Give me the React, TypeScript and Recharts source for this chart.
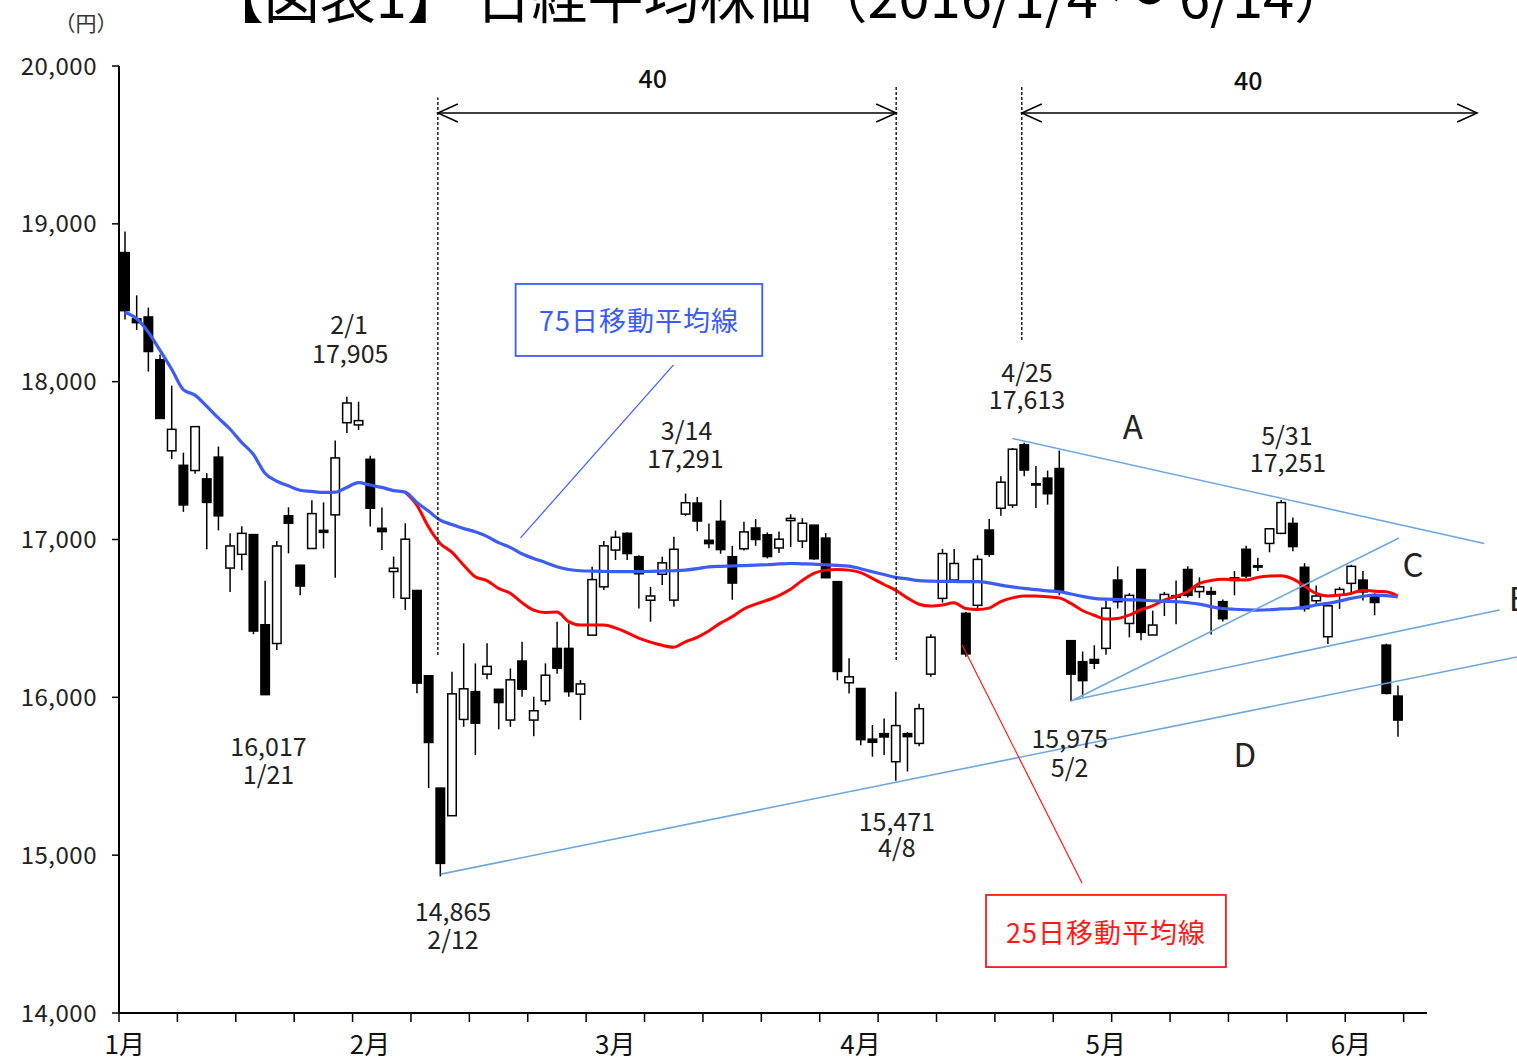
import React from 'react';
import {
  ComposedChart, Bar, Line, XAxis, YAxis, ReferenceLine, ReferenceDot, ReferenceArea,
} from 'recharts';

const FONT = '"Noto Sans CJK JP", "Noto Sans", sans-serif';

// ---- data ----
const dates = [
  '1/4','1/5','1/6','1/7','1/8','1/12','1/13','1/14','1/15','1/18','1/19','1/20','1/21','1/22','1/25','1/26','1/27','1/28','1/29',
  '2/1','2/2','2/3','2/4','2/5','2/8','2/9','2/10','2/12','2/15','2/16','2/17','2/18','2/19','2/22','2/23','2/24','2/25','2/26','2/29',
  '3/1','3/2','3/3','3/4','3/7','3/8','3/9','3/10','3/11','3/14','3/15','3/16','3/17','3/18','3/22','3/23','3/24','3/25','3/28','3/29','3/30','3/31',
  '4/1','4/4','4/5','4/6','4/7','4/8','4/11','4/12','4/13','4/14','4/15','4/18','4/19','4/20','4/21','4/22','4/25','4/26','4/27','4/28',
  '5/2','5/6','5/9','5/10','5/11','5/12','5/13','5/16','5/17','5/18','5/19','5/20','5/23','5/24','5/25','5/26','5/27','5/30','5/31',
  '6/1','6/2','6/3','6/6','6/7','6/8','6/9','6/10','6/13','6/14',
];

const open = [
  18818,18398,18410,18139,17562,17470,17437,17384,17522,16819,
  16906,17031,16460,16341,17150,16837,16943,17058,17156,17740,
  17726,17508,17071,16797,16628,16677,16137,15425,15250,15860,
  16036,16147,16051,15856,16230,15856,15978,16310,16310,16020,
  16394,16700,16933,17039,16891,16615,16780,16616,17161,17231,
  16995,17115,16891,16941,17073,17030,16946,17120,16990,17091,
  17009,16733,16092,16056,15735,15770,15592,15770,15708,16147,
  16627,16743,16532,16583,17060,17198,17218,17600,17345,17389,
  17450,16359,16226,16240,16310,16743,16468,16810,16395,16606,
  16634,16810,16670,16670,16606,16740,16938,16825,16975,17039,
  17102,16824,16612,16384,16648,16722,16743,16637,16331,16008,
];
const high = [
  18951,18547,18469,18172,17975,17550,17716,17420,17589,17039,
  17084,17031,16739,16991,17204,16840,17249,17235,17628,17905,
  17873,17530,17202,16892,17103,16677,16137,15425,16162,16342,
  16215,16342,16051,16183,16352,16004,16215,16479,16468,16109,
  16827,16990,17056,17045,16900,16700,16891,17018,17291,17270,
  17102,17250,16960,17113,17130,17045,17050,17160,17135,17092,
  17040,16733,16247,16056,15824,15866,16035,15780,15960,16400,
  16940,16940,16540,16900,17130,17400,17580,17613,17466,17437,
  17564,16359,16290,16330,16610,16830,16660,16810,16549,16668,
  16740,16830,16760,16700,16620,16800,16960,16884,17071,17251,
  17140,16850,16709,16603,16700,16840,16800,16661,16340,16075,
];
const low = [
  18394,18327,18064,17767,17509,17175,17416,16938,17058,16667,
  16805,16400,16017,16300,16912,16646,16943,16943,16758,17674,
  17694,17082,16934,16628,16554,16026,15425,14865,15250,15813,
  15634,16114,15797,15813,16004,15753,15951,16150,16004,15856,
  16394,16680,16870,16870,16563,16479,16711,16574,17150,17052,
  16944,16910,16618,16930,16960,16880,16915,16952,16946,16871,
  16758,16108,16025,15697,15624,15634,15471,15530,15690,16130,
  16600,16740,16257,16560,16890,17150,17200,17400,17200,17221,
  16647,15975,16005,16180,16270,16563,16380,16361,16395,16515,
  16463,16633,16630,16398,16480,16646,16754,16800,16919,17034,
  16925,16543,16585,16338,16560,16650,16614,16520,16019,15750,
];
const close = [
  18450,18374,18191,17767,17698,17219,17715,17235,17150,16959,
  17039,16420,16017,16959,17103,16705,17164,17045,17517,17865,
  17753,17198,17050,16818,17002,16090,15714,14948,16022,16054,
  15836,16196,15967,16111,16052,15915,16140,16185,16036,16085,
  16746,16960,17014,16911,16783,16642,16852,16938,17233,17117,
  16974,16936,16724,17048,17000,16892,17002,17134,17103,16878,
  16758,16164,16130,15732,15715,15749,15821,15751,15928,16381,
  16911,16848,16275,16874,16906,17363,17572,17440,17353,17290,
  16666,16147,16106,16216,16565,16606,16646,16412,16458,16652,
  16644,16646,16700,16654,16498,16757,16769,16834,17068,17234,
  16955,16562,16642,16580,16684,16830,16668,16601,16025,15856,
];
const ma75 = [
  18440,18400,18315,18200,18080,17950,17915,17845,17770,17700,
  17615,17540,17420,17370,17340,17312,17305,17298,17300,17330,
  17360,17345,17330,17310,17300,17235,17180,17123,17095,17070,
  17049,17020,16980,16950,16910,16880,16855,16827,16810,16802,
  16800,16798,16796,16796,16796,16798,16800,16802,16806,16815,
  16827,16830,16832,16835,16838,16840,16845,16848,16846,16844,
  16840,16836,16831,16815,16796,16778,16760,16750,16739,16736,
  16735,16734,16733,16733,16725,16711,16700,16690,16682,16675,
  16670,16655,16640,16627,16622,16620,16618,16616,16612,16608,
  16606,16600,16591,16575,16563,16558,16555,16553,16555,16560,
  16563,16570,16585,16595,16610,16627,16640,16648,16645,16637,
];
const ma25 = [
  null,null,null,null,null,null,null,null,null,null,
  null,null,null,null,null,null,null,null,null,null,
  null,null,null,null,17300,17218,17080,16975,16920,16838,
  16764,16740,16690,16660,16600,16553,16538,16540,16480,16458,
  16458,16458,16440,16410,16375,16350,16330,16318,16352,16380,
  16420,16470,16510,16560,16590,16615,16645,16685,16740,16785,
  16806,16810,16806,16790,16754,16715,16679,16630,16590,16578,
  16585,16599,16563,16556,16565,16606,16630,16642,16642,16637,
  16630,16595,16550,16520,16496,16500,16521,16555,16580,16616,
  16640,16669,16722,16740,16748,16746,16743,16760,16768,16770,
  16750,16705,16658,16642,16648,16658,16679,16672,16669,16642,
];

const yTicks = [14000, 15000, 16000, 17000, 18000, 19000, 20000];
const monthTickIdx = [0, 21, 42, 63, 84, 105];
const monthLabels = ['1月', '2月', '3月', '4月', '5月', '6月'];
const SLOTS = 112; // category slots on the axis (2 empty at the end)
const tickBoundaries = Array.from({ length: 23 }, (_, k) => k * 5 - 0.5);

// ---- annotations (data coordinates) ----
const peakLabels = [
  { x: 19.2, y: 18370, text: '2/1' }, { x: 19.3, y: 18188, text: '17,905' },
  { x: 12.3, y: 15698, text: '16,017' }, { x: 12.3, y: 15520, text: '1/21' },
  { x: 28.1, y: 14652, text: '14,865' }, { x: 28.1, y: 14474, text: '2/12' },
  { x: 48.1, y: 17700, text: '3/14' }, { x: 48.0, y: 17523, text: '17,291' },
  { x: 66.1, y: 15223, text: '15,471' }, { x: 66.1, y: 15055, text: '4/8' },
  { x: 77.25, y: 18070, text: '4/25' }, { x: 77.25, y: 17897, text: '17,613' },
  { x: 80.9, y: 15749, text: '15,975' }, { x: 80.9, y: 15565, text: '5/2' },
  { x: 99.5, y: 17670, text: '5/31' }, { x: 99.6, y: 17497, text: '17,251' },
];
const countLabels = [
  { x: 45.2, y: 19930, text: '40' },
  { x: 96.2, y: 19918, text: '40' },
];
const letterLabels = [
  { x: 86.3, y: 17725, text: 'A', anchor: 'middle' },
  { x: 110.3, y: 16851, text: 'C', anchor: 'middle' },
  { x: 95.9, y: 15647, text: 'D', anchor: 'middle' },
  { x: 118.5, y: 16636, text: 'B', anchor: 'start' },
];
const dashedLines = [
  { x: 26.8, y1: 16268, y2: 19800 },
  { x: 66.05, y1: 16236, y2: 19880 },
  { x: 76.8, y1: 18264, y2: 19880 },
];
const spanArrows = [
  { x1: 26.8, x2: 66.05, y: 19702 },
  { x1: 76.8, x2: 115.8, y: 19702 },
];
const trendLines = [
  { x1: 76.0, y1: 17640, x2: 116.4, y2: 16975 },
  { x1: 81.0, y1: 15975, x2: 109.1, y2: 17009 },
  { x1: 81.3, y1: 15985, x2: 117.7, y2: 16553 },
  { x1: 27.05, y1: 14880, x2: 119.2, y2: 16256 },
];
const legendBoxes = [
  { x1: 33.46, x2: 54.58, y1: 18163, y2: 18619, text: '75日移動平均線', color: '#3B5BFF',
    from: { x: 46.98, y: 18106 }, to: { x: 33.88, y: 17010 } },
  { x1: 73.74, x2: 94.28, y1: 14291, y2: 14748, text: '25日移動平均線', color: '#FF1A1A',
    from: { x: 71.7, y: 16332 }, to: { x: 81.96, y: 14824 } },
];

const rows = Array.from({ length: SLOTS }, (_, i) =>
  i < dates.length
    ? { i, date: dates[i], o: open[i], h: high[i], l: low[i], c: close[i],
        range: [low[i], high[i]], ma25: ma25[i], ma75: ma75[i] }
    : { i, date: '', o: null, h: null, l: null, c: null, range: null, ma25: null, ma75: null }
);

// ---- shapes ----
const Candle = (props: any) => {
  const { x, y, width, height, payload } = props;
  if (!payload || payload.o == null || x == null || y == null) return null;
  const { o, h, l, c } = payload;
  const top = Math.min(y, y + height);
  const bot = Math.max(y, y + height);
  const span = h - l;
  const toY = (v: number) => (span === 0 ? top : top + ((h - v) / span) * (bot - top));
  const cx = x + width / 2;
  const yo = toY(o);
  const yc = toY(c);
  const up = c >= o;
  const bt = Math.min(yo, yc);
  const bh = Math.max(Math.abs(yo - yc), 1.2);
  return (
    <g>
      <line x1={cx} x2={cx} y1={top} y2={bot} stroke="#000" strokeWidth={1.5} />
      <rect x={x + 0.75} y={bt} width={width - 1.5} height={bh}
        fill={up ? '#fff' : '#000'} stroke="#000" strokeWidth={1.5} />
    </g>
  );
};

const XTick = (props: any) => {
  const { x, y, payload } = props;
  const v = payload.value;
  const mi = monthTickIdx.indexOf(v);
  if (mi >= 0) {
    return (
      <text x={x} y={y + 41} textAnchor="middle" fontSize={26} fontFamily={FONT} fill="#111">
        {monthLabels[mi]}
      </text>
    );
  }
  return <line x1={x} x2={x} y1={y} y2={y + 9} stroke="#000" strokeWidth={1.5} />;
};

const arrowShape = (p: any) => {
  const { x1, y1, x2, y2 } = p;
  const hl = 20;
  const hw = 9;
  return (
    <g stroke="#000" strokeWidth={1.5} fill="none">
      <line x1={x1} y1={y1} x2={x2} y2={y2} />
      <polyline points={`${x1 + hl},${y1 - hw} ${x1},${y1} ${x1 + hl},${y1 + hw}`} />
      <polyline points={`${x2 - hl},${y2 - hw} ${x2},${y2} ${x2 - hl},${y2 + hw}`} />
    </g>
  );
};

const textShape = (text: string, size: number, anchor: string, weight: number, fill: string) => (p: any) => (
  <text x={p.cx} y={p.cy} textAnchor={anchor} dominantBaseline="central" fontSize={size}
    fontFamily={FONT} fontWeight={weight} fill={fill}>
    {text}
  </text>
);

const boxShape = (text: string, color: string) => (p: any) => (
  <g>
    <rect x={p.x} y={p.y} width={p.width} height={p.height} fill="#fff" stroke={color} strokeWidth={1.8} />
    <text x={p.x + p.width / 2} y={p.y + p.height / 2} textAnchor="middle" dominantBaseline="central"
      fontSize={27} fontFamily={FONT} fill={color} letterSpacing={1}>
      {text}
    </text>
  </g>
);

export default function App() {
  return (
    <div style={{ position: 'absolute', left: 0, top: 0, width: 1517, height: 1058, overflow: 'hidden', background: '#fff' }}>
      <ComposedChart width={1517} height={1058} data={rows} margin={{ top: 66, right: 90, bottom: 0, left: 0 }}>
        <XAxis xAxisId="cat" dataKey="i" type="category" hide height={0} />
        <XAxis xAxisId="num" dataKey="i" type="number" domain={[-0.5, SLOTS - 0.5]} allowDataOverflow
          ticks={[...tickBoundaries, ...monthTickIdx]} interval={0} tick={XTick}
          tickLine={false} tickSize={0} tickMargin={0} height={45}
          axisLine={{ stroke: '#000', strokeWidth: 2 }} />
        <YAxis yAxisId="y" domain={[14000, 20000]} ticks={yTicks} interval={0} allowDataOverflow width={119}
          tickSize={7} tickMargin={15}
          tick={{ fontSize: 24, fill: '#222', fontFamily: FONT, letterSpacing: 0.5 }}
          tickFormatter={(v: number) => v.toLocaleString('en-US')}
          axisLine={{ stroke: '#000', strokeWidth: 2 }} tickLine={{ stroke: '#000', strokeWidth: 1.5 }} />

        <Bar xAxisId="cat" yAxisId="y" dataKey="range" barSize={10} shape={Candle} isAnimationActive={false} />
        <Line xAxisId="cat" yAxisId="y" dataKey="ma25" type="monotone" stroke="#FF0000" strokeWidth={3}
          dot={false} activeDot={false} isAnimationActive={false} />
        <Line xAxisId="cat" yAxisId="y" dataKey="ma75" type="monotone" stroke="#3D5CF2" strokeWidth={3.2}
          dot={false} activeDot={false} isAnimationActive={false} />

        {dashedLines.map((d, k) => (
          <ReferenceLine key={`d${k}`} xAxisId="num" yAxisId="y" ifOverflow="visible"
            segment={[{ x: d.x, y: d.y1 }, { x: d.x, y: d.y2 }]}
            stroke="#222" strokeWidth={1.5} strokeDasharray="3 2" />
        ))}
        {spanArrows.map((a, k) => (
          <ReferenceLine key={`a${k}`} xAxisId="num" yAxisId="y" ifOverflow="visible"
            segment={[{ x: a.x1, y: a.y }, { x: a.x2, y: a.y }]} shape={arrowShape} />
        ))}
        {trendLines.map((t, k) => (
          <ReferenceLine key={`t${k}`} xAxisId="num" yAxisId="y" ifOverflow="visible"
            segment={[{ x: t.x1, y: t.y1 }, { x: t.x2, y: t.y2 }]}
            stroke="#6FA6DC" strokeWidth={1.6} />
        ))}
        {legendBoxes.map((b, k) => (
          <ReferenceLine key={`c${k}`} xAxisId="num" yAxisId="y" ifOverflow="visible"
            segment={[b.from, b.to]} stroke={b.color} strokeWidth={1.2} />
        ))}
        {legendBoxes.map((b, k) => (
          <ReferenceArea key={`b${k}`} xAxisId="num" yAxisId="y" ifOverflow="visible"
            x1={b.x1} x2={b.x2} y1={b.y1} y2={b.y2} shape={boxShape(b.text, b.color)} />
        ))}
        {peakLabels.map((l, k) => (
          <ReferenceDot key={`p${k}`} xAxisId="num" yAxisId="y" ifOverflow="visible" x={l.x} y={l.y} r={0}
            shape={textShape(l.text, 25, 'middle', 400, '#222')} />
        ))}
        {countLabels.map((l, k) => (
          <ReferenceDot key={`n${k}`} xAxisId="num" yAxisId="y" ifOverflow="visible" x={l.x} y={l.y} r={0}
            shape={textShape(l.text, 25, 'middle', 500, '#111')} />
        ))}
        {letterLabels.map((l, k) => (
          <ReferenceDot key={`l${k}`} xAxisId="num" yAxisId="y" ifOverflow="visible" x={l.x} y={l.y} r={0}
            shape={textShape(l.text, 33, l.anchor, 400, '#222')} />
        ))}
      </ComposedChart>
      <svg width={1517} height={60} style={{ position: 'absolute', left: 0, top: 0, pointerEvents: 'none' }}>
        <text x={86} y={22} textAnchor="middle" fontSize={21} fontFamily={FONT} fill="#333" dominantBaseline="central">（円）</text>
        <text x={779} y={18} textAnchor="middle" fontSize={56} fontFamily={FONT} fill="#000">
          【図表1】 日経平均株価（2016/1/4 ～ 6/14）
        </text>
      </svg>
    </div>
  );
}
